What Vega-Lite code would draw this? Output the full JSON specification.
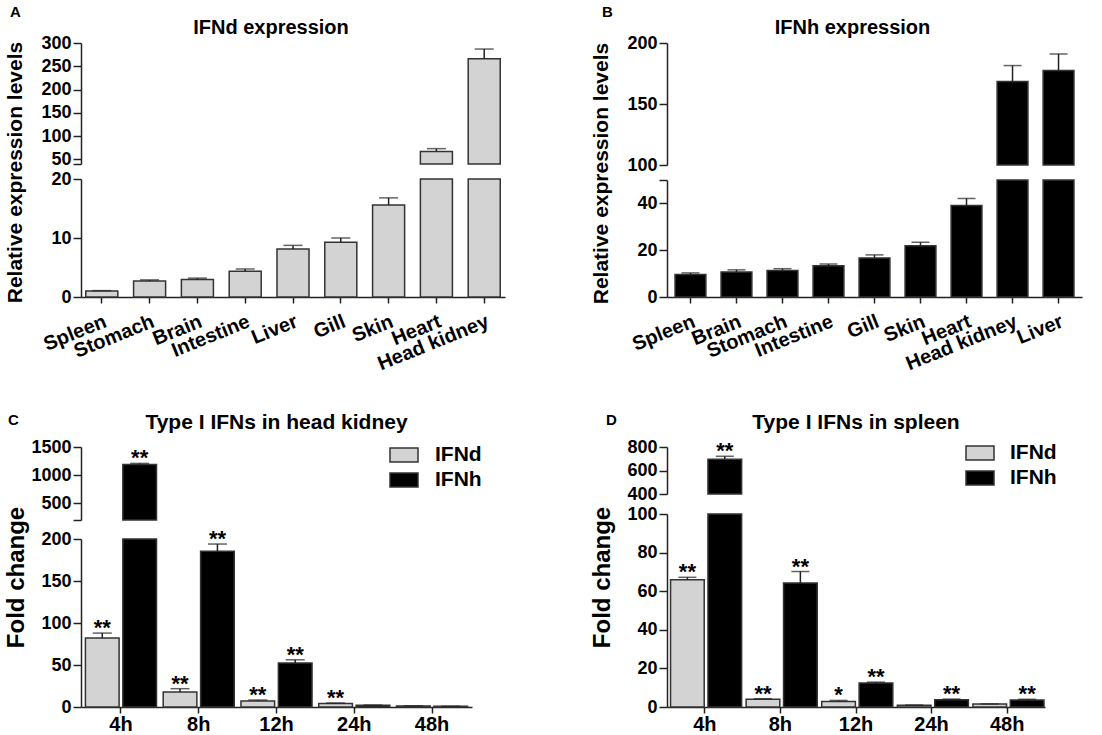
{
"$schema":"https://vega.github.io/schema/vega-lite/v6.json",
"background":"white",
"padding":{"left":3,"top":5,"right":5,"bottom":0},
"config":{
 "font":"Liberation Sans",
 "view":{"stroke":null},
 "bar":{"stroke":"#333333","strokeWidth":1.5},
 "rule":{"color":"#222222","strokeWidth":1.5},
 "tick":{"color":"#222222","thickness":1.5},
 "text":{"font":"Liberation Sans","fontSize":22,"fontWeight":"bold","color":"black","baseline":"alphabetic","dy":2},
 "axis":{"grid":false,"domainColor":"#222222","domainWidth":1.5,"tickColor":"#222222","tickWidth":1.5,"labelColor":"black","labelFont":"Liberation Sans","labelFontWeight":"bold","titleFont":"Liberation Sans","titleFontWeight":"bold","titleColor":"black","labelOverlap":false,"labelFlush":false},
 "axisY":{"labelFontSize":18,"tickSize":8,"labelPadding":2,"format":"d","tickCount":30},
 "axisX":{"labelFontSize":20,"tickSize":6,"labelPadding":8},
 "title":{"font":"Liberation Sans","fontWeight":"bold","color":"black"}
},
"datasets":{
 "a":[
  {"tissue":"Spleen","value":1.0,"upper":1.08},
  {"tissue":"Stomach","value":2.7,"upper":2.9},
  {"tissue":"Brain","value":2.95,"upper":3.2},
  {"tissue":"Intestine","value":4.35,"upper":4.75},
  {"tissue":"Liver","value":8.15,"upper":8.75},
  {"tissue":"Gill","value":9.3,"upper":10.0},
  {"tissue":"Skin","value":15.6,"upper":16.8},
  {"tissue":"Heart","value":67,"upper":73},
  {"tissue":"Head kidney","value":266,"upper":287}
 ],
 "b":[
  {"tissue":"Spleen","value":9.6,"upper":10.3},
  {"tissue":"Brain","value":10.7,"upper":11.6},
  {"tissue":"Stomach","value":11.3,"upper":12.1},
  {"tissue":"Intestine","value":13.4,"upper":14.1},
  {"tissue":"Gill","value":16.7,"upper":18.0},
  {"tissue":"Skin","value":21.9,"upper":23.4},
  {"tissue":"Heart","value":39.1,"upper":42.1},
  {"tissue":"Head kidney","value":168.5,"upper":181.5},
  {"tissue":"Liver","value":177.5,"upper":191}
 ],
 "c":[
  {"time":"4h","gene":"IFNd","value":82,"upper":88,"sig":"**"},
  {"time":"4h","gene":"IFNh","value":1190,"upper":1208,"sig":"**"},
  {"time":"8h","gene":"IFNd","value":17.8,"upper":21.8,"sig":"**"},
  {"time":"8h","gene":"IFNh","value":185.5,"upper":194,"sig":"**"},
  {"time":"12h","gene":"IFNd","value":7.1,"upper":8.3,"sig":"**"},
  {"time":"12h","gene":"IFNh","value":52.3,"upper":56.2,"sig":"**"},
  {"time":"24h","gene":"IFNd","value":4.3,"upper":4.8,"sig":"**"},
  {"time":"24h","gene":"IFNh","value":2.0,"upper":2.3,"sig":""},
  {"time":"48h","gene":"IFNd","value":1.2,"upper":1.4,"sig":""},
  {"time":"48h","gene":"IFNh","value":0.8,"upper":0.9,"sig":""}
 ],
 "d":[
  {"time":"4h","gene":"IFNd","value":65.9,"upper":67.2,"sig":"**"},
  {"time":"4h","gene":"IFNh","value":696,"upper":721,"sig":"**"},
  {"time":"8h","gene":"IFNd","value":4.0,"upper":4.3,"sig":"**"},
  {"time":"8h","gene":"IFNh","value":64.3,"upper":70.2,"sig":"**"},
  {"time":"12h","gene":"IFNd","value":2.9,"upper":3.4,"sig":"*"},
  {"time":"12h","gene":"IFNh","value":12.4,"upper":12.9,"sig":"**"},
  {"time":"24h","gene":"IFNd","value":0.9,"upper":1.0,"sig":""},
  {"time":"24h","gene":"IFNh","value":3.8,"upper":4.1,"sig":"**"},
  {"time":"48h","gene":"IFNd","value":1.5,"upper":1.6,"sig":""},
  {"time":"48h","gene":"IFNh","value":3.6,"upper":4.0,"sig":"**"}
 ]
},
"columns":2,
"spacing":{"row":38,"column":84},
"resolve":{"scale":{"color":"independent"},"legend":{"color":"independent"}},
"concat":[
 {
  "title":{"text":"A","anchor":"start","fontSize":15,"offset":-2,"dx":6},
  "bounds":"flush",
  "spacing":15,
  "vconcat":[
   {
    "width":424,"height":121,
    "title":{"text":"IFNd expression","fontSize":20,"dx":-22,"offset":-4},
    "data":{"name":"a"},
    "transform":[{"filter":"datum.value > 40"}],
    "encoding":{"x":{"field":"tissue","type":"nominal","scale":{"domain":["Spleen","Stomach","Brain","Intestine","Liver","Gill","Skin","Heart","Head kidney"],"paddingInner":0.33,"paddingOuter":0.1},"axis":null}},
    "layer":[
     {"mark":{"type":"bar","fill":"#d3d3d3"},
      "encoding":{"y":{"field":"value","type":"quantitative","title":null,"scale":{"domain":[40,300],"nice":false,"zero":false,"clamp":true},"axis":{"values":[40,50,100,150,200,250,300],"tickCount":30,"labelOverlap":false,"labelExpr":"datum.value == 40 ? '' : datum.label"}},"y2":{"datum":0}}},
     {"mark":{"type":"rule"},
      "encoding":{"y":{"field":"value","type":"quantitative","title":null},"y2":{"field":"upper"}}},
     {"mark":{"type":"tick","orient":"horizontal","size":19},
      "encoding":{"y":{"field":"upper","type":"quantitative","title":null}}}
    ]
   },
   {
    "width":424,"height":118,
    "data":{"name":"a"},
    "encoding":{"x":{"field":"tissue","type":"nominal","scale":{"domain":["Spleen","Stomach","Brain","Intestine","Liver","Gill","Skin","Heart","Head kidney"],"paddingInner":0.33,"paddingOuter":0.1},"axis":{"title":null,"labelAngle":-22}}},
    "layer":[
     {"mark":{"type":"bar","fill":"#d3d3d3"},
      "encoding":{"y":{"field":"value","type":"quantitative","title":"Relative expression levels","scale":{"domain":[0,20],"nice":false,"clamp":true},"axis":{"values":[0,10,20],"tickCount":30,"labelOverlap":false,"titleFontSize":21,"titleX":-56,"titleY":-7}},"y2":{"datum":0}}},
     {"transform":[{"filter":"datum.upper <= 20"}],"mark":{"type":"rule"},
      "encoding":{"y":{"field":"value","type":"quantitative","title":"Relative expression levels"},"y2":{"field":"upper"}}},
     {"transform":[{"filter":"datum.upper <= 20"}],"mark":{"type":"tick","orient":"horizontal","size":19},
      "encoding":{"y":{"field":"upper","type":"quantitative","title":"Relative expression levels"}}}
    ]
   }
  ]
 },
 {
  "title":{"text":"B","anchor":"start","fontSize":15,"offset":-2,"dx":12},
  "bounds":"flush",
  "spacing":15,
  "vconcat":[
   {
    "width":415,"height":122,
    "title":{"text":"IFNh expression","fontSize":20,"dx":-22,"offset":-4},
    "data":{"name":"b"},
    "transform":[{"filter":"datum.value > 100"}],
    "encoding":{"x":{"field":"tissue","type":"nominal","scale":{"domain":["Spleen","Brain","Stomach","Intestine","Gill","Skin","Heart","Head kidney","Liver"],"paddingInner":0.33,"paddingOuter":0.175},"axis":null}},
    "layer":[
     {"mark":{"type":"bar","fill":"black"},
      "encoding":{"y":{"field":"value","type":"quantitative","title":null,"scale":{"domain":[100,200],"nice":false,"zero":false,"clamp":true},"axis":{"values":[100,150,200],"tickCount":30,"labelOverlap":false}},"y2":{"datum":0}}},
     {"mark":{"type":"rule"},
      "encoding":{"y":{"field":"value","type":"quantitative","title":null},"y2":{"field":"upper"}}},
     {"mark":{"type":"tick","orient":"horizontal","size":18},
      "encoding":{"y":{"field":"upper","type":"quantitative","title":null}}}
    ]
   },
   {
    "width":415,"height":117,
    "data":{"name":"b"},
    "encoding":{"x":{"field":"tissue","type":"nominal","scale":{"domain":["Spleen","Brain","Stomach","Intestine","Gill","Skin","Heart","Head kidney","Liver"],"paddingInner":0.33,"paddingOuter":0.175},"axis":{"title":null,"labelAngle":-22}}},
    "layer":[
     {"mark":{"type":"bar","fill":"black"},
      "encoding":{"y":{"field":"value","type":"quantitative","title":"Relative expression levels","scale":{"domain":[0,50],"nice":false,"clamp":true},"axis":{"values":[0,20,40,50],"tickCount":30,"labelOverlap":false,"labelExpr":"datum.value == 50 ? '' : datum.label","titleFontSize":21,"titleX":-56,"titleY":-7}},"y2":{"datum":0}}},
     {"transform":[{"filter":"datum.upper <= 50"}],"mark":{"type":"rule"},
      "encoding":{"y":{"field":"value","type":"quantitative","title":"Relative expression levels"},"y2":{"field":"upper"}}},
     {"transform":[{"filter":"datum.upper <= 50"}],"mark":{"type":"tick","orient":"horizontal","size":18},
      "encoding":{"y":{"field":"upper","type":"quantitative","title":"Relative expression levels"}}}
    ]
   }
  ]
 },
 {
  "title":{"text":"C","anchor":"start","fontSize":15,"offset":0,"dx":4,"dy":16},
  "bounds":"flush",
  "spacing":19,
  "resolve":{"scale":{"color":"independent"},"legend":{"color":"independent"}},
  "vconcat":[
   {
    "width":391,"height":73,
    "title":{"text":"Type I IFNs in head kidney","fontSize":21,"offset":5},
    "data":{"name":"c"},
    "transform":[{"filter":"datum.value > 200"}],
    "encoding":{
     "x":{"field":"time","type":"nominal","scale":{"domain":["4h","8h","12h","24h","48h"],"paddingInner":0.086,"paddingOuter":0.057},"axis":null},
     "xOffset":{"field":"gene","type":"nominal","scale":{"domain":["IFNd","IFNh"],"paddingInner":0.1}}
    },
    "layer":[
     {"mark":{"type":"bar"},
      "encoding":{"y":{"field":"value","type":"quantitative","title":null,"scale":{"domain":[200,1500],"nice":false,"zero":false,"clamp":true},"axis":{"values":[200,500,1000,1500],"tickCount":30,"labelOverlap":false,"labelExpr":"datum.value == 200 ? '' : datum.label"}},"y2":{"datum":0},
       "color":{"field":"gene","type":"nominal","scale":{"domain":["IFNd","IFNh"],"range":["#d3d3d3","black"]},
        "legend":{"title":null,"orient":"none","legendX":308,"legendY":-7,"padding":0,"rowPadding":0,"symbolType":"M-1,-0.5H1V0.5H-1Z","symbolSize":784,"symbolStrokeColor":"#333333","symbolStrokeWidth":1.5,"labelFont":"Liberation Sans","labelFontSize":21,"labelFontWeight":"bold","labelColor":"black","labelOffset":16}}}},
     {"mark":{"type":"rule"},
      "encoding":{"y":{"field":"value","type":"quantitative","title":null},"y2":{"field":"upper"}}},
     {"mark":{"type":"tick","orient":"horizontal","size":19},
      "encoding":{"y":{"field":"upper","type":"quantitative","title":null}}},
     {"transform":[{"filter":"datum.sig != ''"}],"mark":{"type":"text"},
      "encoding":{"y":{"field":"upper","type":"quantitative","title":null},"text":{"field":"sig"}}}
    ]
   },
   {
    "width":391,"height":168,
    "data":{"name":"c"},
    "encoding":{
     "x":{"field":"time","type":"nominal","scale":{"domain":["4h","8h","12h","24h","48h"],"paddingInner":0.086,"paddingOuter":0.057},"axis":{"title":null,"labelAngle":0,"labelFontSize":20,"labelPadding":1}},
     "xOffset":{"field":"gene","type":"nominal","scale":{"domain":["IFNd","IFNh"],"paddingInner":0.1}}
    },
    "layer":[
     {"mark":{"type":"bar"},
      "encoding":{"y":{"field":"value","type":"quantitative","title":"Fold change","scale":{"domain":[0,200],"nice":false,"clamp":true},"axis":{"values":[0,50,100,150,200],"tickCount":30,"labelOverlap":false,"titleFontSize":24,"titleX":-53,"titleY":38}},"y2":{"datum":0},
       "color":{"field":"gene","type":"nominal","scale":{"domain":["IFNd","IFNh"],"range":["#d3d3d3","black"]},"legend":null}}},
     {"transform":[{"filter":"datum.upper <= 200"}],"mark":{"type":"rule"},
      "encoding":{"y":{"field":"value","type":"quantitative","title":"Fold change"},"y2":{"field":"upper"}}},
     {"transform":[{"filter":"datum.upper <= 200"}],"mark":{"type":"tick","orient":"horizontal","size":19},
      "encoding":{"y":{"field":"upper","type":"quantitative","title":"Fold change"}}},
     {"transform":[{"filter":"datum.upper <= 200 && datum.sig != ''"}],"mark":{"type":"text"},
      "encoding":{"y":{"field":"upper","type":"quantitative","title":"Fold change"},"text":{"field":"sig"}}}
    ]
   }
  ]
 },
 {
  "title":{"text":"D","anchor":"start","fontSize":15,"offset":0,"dx":16,"dy":16},
  "bounds":"flush",
  "spacing":20,
  "resolve":{"scale":{"color":"independent"},"legend":{"color":"independent"}},
  "vconcat":[
   {
    "width":378,"height":47,
    "title":{"text":"Type I IFNs in spleen","fontSize":21,"offset":5},
    "data":{"name":"d"},
    "transform":[{"filter":"datum.value > 400"}],
    "encoding":{
     "x":{"field":"time","type":"nominal","scale":{"domain":["4h","8h","12h","24h","48h"],"paddingInner":0.093,"paddingOuter":0.047},"axis":null},
     "xOffset":{"field":"gene","type":"nominal","scale":{"domain":["IFNd","IFNh"],"paddingInner":0.06}}
    },
    "layer":[
     {"mark":{"type":"bar"},
      "encoding":{"y":{"field":"value","type":"quantitative","title":null,"scale":{"domain":[400,800],"nice":false,"zero":false,"clamp":true},"axis":{"values":[400,600,800],"tickCount":30,"labelOverlap":false}},"y2":{"datum":0},
       "color":{"field":"gene","type":"nominal","scale":{"domain":["IFNd","IFNh"],"range":["#d3d3d3","black"]},
        "legend":{"title":null,"orient":"none","legendX":298,"legendY":-9,"padding":0,"rowPadding":0,"symbolType":"M-1,-0.5H1V0.5H-1Z","symbolSize":784,"symbolStrokeColor":"#333333","symbolStrokeWidth":1.5,"labelFont":"Liberation Sans","labelFontSize":21,"labelFontWeight":"bold","labelColor":"black","labelOffset":15}}}},
     {"mark":{"type":"rule"},
      "encoding":{"y":{"field":"value","type":"quantitative","title":null},"y2":{"field":"upper"}}},
     {"mark":{"type":"tick","orient":"horizontal","size":18},
      "encoding":{"y":{"field":"upper","type":"quantitative","title":null}}},
     {"transform":[{"filter":"datum.sig != ''"}],"mark":{"type":"text"},
      "encoding":{"y":{"field":"upper","type":"quantitative","title":null},"text":{"field":"sig"}}}
    ]
   },
   {
    "width":378,"height":193,
    "data":{"name":"d"},
    "encoding":{
     "x":{"field":"time","type":"nominal","scale":{"domain":["4h","8h","12h","24h","48h"],"paddingInner":0.093,"paddingOuter":0.047},"axis":{"title":null,"labelAngle":0,"labelFontSize":20,"labelPadding":1}},
     "xOffset":{"field":"gene","type":"nominal","scale":{"domain":["IFNd","IFNh"],"paddingInner":0.06}}
    },
    "layer":[
     {"mark":{"type":"bar"},
      "encoding":{"y":{"field":"value","type":"quantitative","title":"Fold change","scale":{"domain":[0,100],"nice":false,"clamp":true},"axis":{"values":[0,20,40,60,80,100],"tickCount":30,"labelOverlap":false,"titleFontSize":24,"titleX":-53,"titleY":63}},"y2":{"datum":0},
       "color":{"field":"gene","type":"nominal","scale":{"domain":["IFNd","IFNh"],"range":["#d3d3d3","black"]},"legend":null}}},
     {"transform":[{"filter":"datum.upper <= 100"}],"mark":{"type":"rule"},
      "encoding":{"y":{"field":"value","type":"quantitative","title":"Fold change"},"y2":{"field":"upper"}}},
     {"transform":[{"filter":"datum.upper <= 100"}],"mark":{"type":"tick","orient":"horizontal","size":18},
      "encoding":{"y":{"field":"upper","type":"quantitative","title":"Fold change"}}},
     {"transform":[{"filter":"datum.upper <= 100 && datum.sig != ''"}],"mark":{"type":"text"},
      "encoding":{"y":{"field":"upper","type":"quantitative","title":"Fold change"},"text":{"field":"sig"}}}
    ]
   }
  ]
 }
]
}
